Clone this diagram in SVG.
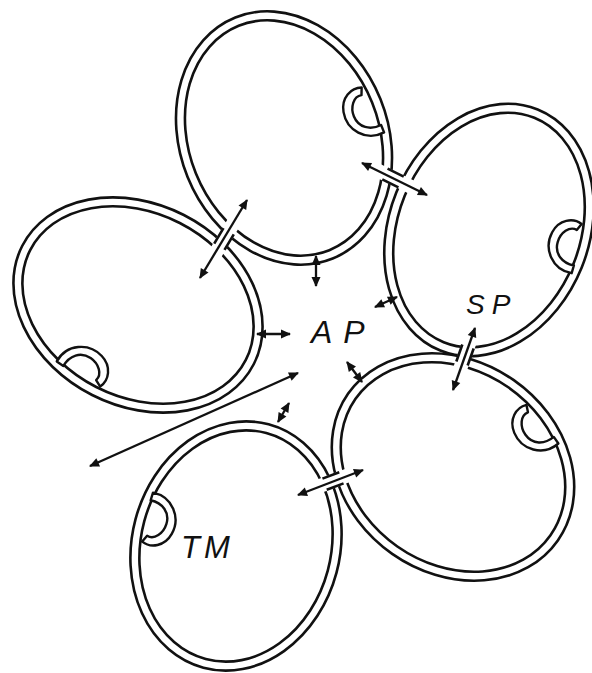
<svg xmlns="http://www.w3.org/2000/svg" width="592" height="673" viewBox="0 0 592 673">
<style>
.m{fill:none;stroke:#111;stroke-width:2.6}
.hk{fill:#fff;stroke:#111;stroke-width:2.4;stroke-linejoin:round}
.cut{fill:#fff;stroke:none}
.wall{stroke:#111;stroke-width:2.6;fill:none}
.ar{stroke:#111;stroke-width:2.3;fill:none;marker-start:url(#ah);marker-end:url(#ah)}
.lb{font-family:"Liberation Sans",Arial,sans-serif;font-style:italic;fill:#111}
</style>
<defs>
<marker id="ah" viewBox="0 0 10 10" refX="9" refY="5" markerUnits="userSpaceOnUse" markerWidth="13" markerHeight="10" orient="auto-start-reverse"><path d="M0,0.5 L10,5 L0,9.5 Z" fill="#111"/></marker>
<path id="hook" d="M0,-26 C20,-28 34,-10 30,8 C27,22 14,28 4,24 L7,17 C15,19 22,10 22,0 C22,-12 12,-19 0,-18 Z"/>
</defs>
<rect width="592" height="673" fill="#fff"/>
<g id="cell1" transform="translate(284,138) rotate(-22)">
<ellipse class="m" rx="104" ry="130"/>
<ellipse class="m" rx="95" ry="121"/>
<use href="#hook" class="hk" transform="translate(94.9,6.3) rotate(180)"/>
</g>
<g id="cell2" transform="translate(489,230) rotate(22)">
<ellipse class="m" rx="100" ry="130"/>
<ellipse class="m" rx="91" ry="121"/>
<use href="#hook" class="hk" transform="translate(90.1,-16.8) rotate(174)"/>
</g>
<g id="cell3" transform="translate(138,305) rotate(27)">
<ellipse class="m" rx="130" ry="101"/>
<ellipse class="m" rx="121" ry="92"/>
<use href="#hook" class="hk" transform="translate(-21,90.6) rotate(-82.4)"/>
</g>
<g id="cell4" transform="translate(453,467) rotate(35)">
<ellipse class="m" rx="128" ry="106"/>
<ellipse class="m" rx="119" ry="97"/>
<use href="#hook" class="hk" transform="translate(48.4,-88.6) rotate(110)"/>
</g>
<g id="cell5" transform="translate(236,546) rotate(15)">
<ellipse class="m" rx="104" ry="126"/>
<ellipse class="m" rx="95" ry="117"/>
<use href="#hook" class="hk" transform="translate(-94.9,-4.1) rotate(2)"/>
</g>
<g id="junctions">
<g transform="translate(393,178) rotate(26.2)"><rect class="cut" x="-26" y="-7" width="52" height="14"/><path class="wall" d="M-9,-6H9M-9,6H9"/></g>
<g transform="translate(224,239) rotate(121)"><rect class="cut" x="-26" y="-7" width="52" height="14"/><path class="wall" d="M-9,-6H9M-9,6H9"/></g>
<g transform="translate(465,355) rotate(109.5)"><rect class="cut" x="-26" y="-7" width="52" height="14"/><path class="wall" d="M-9,-6H9M-9,6H9"/></g>
<g transform="translate(333,481) rotate(-21)"><rect class="cut" x="-26" y="-7" width="52" height="14"/><path class="wall" d="M-9,-6H9M-9,6H9"/></g>
</g>
<g id="connectors">
<line class="ar" x1="362" y1="163" x2="427" y2="195"/>
<line class="ar" x1="247" y1="200" x2="200" y2="278"/>
<line class="ar" x1="316" y1="256" x2="316" y2="286"/>
<line class="ar" x1="257" y1="334" x2="290" y2="334"/>
<line class="ar" x1="397" y1="297" x2="375" y2="307"/>
<line class="ar" x1="362" y1="382" x2="347" y2="362"/>
<line class="ar" x1="90" y1="466" x2="298" y2="373"/>
<line class="ar" x1="278" y1="422" x2="289" y2="403"/>
<line class="ar" x1="475" y1="328" x2="453" y2="390"/>
<line class="ar" x1="298" y1="495" x2="363" y2="470"/>
</g>
<g id="labels">
<text class="lb" x="311" y="343" font-size="32" letter-spacing="11">AP</text>
<text class="lb" x="466" y="314" font-size="28" letter-spacing="7">SP</text>
<text class="lb" x="181" y="558" font-size="31" letter-spacing="4">TM</text>
</g>
</svg>
